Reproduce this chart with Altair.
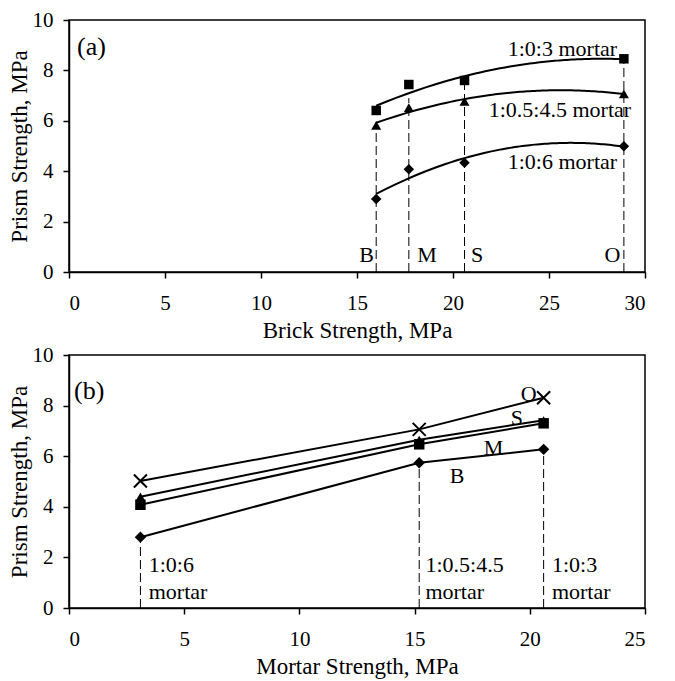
import altair as alt
import pandas as pd

# ---------------- data: panel (a) ----------------
brick_strength = [16.0, 17.7, 20.6, 28.9]
brick_names = ["B", "M", "S", "O"]
a_mortar_103 = [6.41, 7.44, 7.60, 8.46]     # 1:0:3 mortar (squares)
a_mortar_10545 = [5.82, 6.52, 6.77, 7.07]   # 1:0.5:4.5 mortar (triangles)
a_mortar_106 = [2.90, 4.08, 4.34, 4.99]     # 1:0:6 mortar (diamonds)
a_drop_top = [5.95, 6.90, 7.60, 8.46]

# ---------------- data: panel (b) ----------------
mortar_strength = [3.1, 15.2, 20.6]
mortar_names_1 = ["1:0:6", "1:0.5:4.5", "1:0:3"]
b_B = [2.80, 5.74, 6.27]   # diamonds
b_M = [4.08, 6.47, 7.30]   # squares
b_S = [4.40, 6.65, 7.42]   # triangles
b_O = [5.02, 7.06, 8.31]   # crosses

FONT = "Liberation Serif"
BLACK = "#000000"

# ---------- build tables ----------
a_series = ["1:0:3", "1:0.5:4.5", "1:0:6"]
a_vals = [a_mortar_103, a_mortar_10545, a_mortar_106]
rows_a = []
for s, vals in zip(a_series, a_vals):
    for xv, yv in zip(brick_strength, vals):
        rows_a.append({"series": s, "x": xv, "y": yv})
df_a = pd.DataFrame(rows_a)

df_a_drop = pd.DataFrame({"x": brick_strength, "y0": [0] * 4, "y1": a_drop_top})
df_a_letters = pd.DataFrame({"label": brick_names, "x": [15.5, 18.65, 21.25, 28.3], "y": [0.68] * 4})
df_a_series_labels = pd.DataFrame({
    "label": ["1:0:3 mortar", "1:0.5:4.5 mortar", "1:0:6 mortar"],
    "x": [22.85, 21.86, 22.85],
    "y": [8.85, 6.41, 4.37],
})

b_series = ["B", "M", "S", "O"]
b_vals = [b_B, b_M, b_S, b_O]
rows_b = []
for s, vals in zip(b_series, b_vals):
    for xv, yv in zip(mortar_strength, vals):
        rows_b.append({"mseries": s, "x": xv, "y": yv})
df_b = pd.DataFrame(rows_b)
df_b_drop = pd.DataFrame({"x": mortar_strength, "y0": [0] * 3, "y1": b_B})
df_b_letters = pd.DataFrame({"label": ["O", "S", "M", "B"],
                             "x": [19.95, 19.44, 18.43, 16.84],
                             "y": [8.44, 7.52, 6.34, 5.22]})
df_b_mortar_labels = pd.DataFrame({
    "label": mortar_names_1 + ["mortar"] * 3,
    "x": [3.46, 15.47, 20.96] * 2,
    "y": [1.68] * 3 + [0.63] * 3,
})

W, H = 576, 252

# ---------- panel (a) ----------
xa = alt.X("x:Q", scale=alt.Scale(domain=[0, 30], nice=False),
           axis=alt.Axis(values=[0, 5, 10, 15, 20, 25, 30], title="Brick Strength, MPa"))
ya = alt.Y("y:Q", scale=alt.Scale(domain=[0, 10], nice=False),
           axis=alt.Axis(values=[0, 2, 4, 6, 8, 10], title="Prism Strength, MPa"))

a_base = alt.Chart(df_a)
a_pts = a_base.mark_point(filled=True, opacity=1, color=BLACK).encode(
    x=xa, y=ya,
    shape=alt.Shape("series:N", scale=alt.Scale(domain=a_series, range=["square", "triangle-up", "diamond"]), legend=None),
    size=alt.Size("series:N", scale=alt.Scale(domain=a_series, range=[90, 110, 130]), legend=None),
)
a_fit = a_base.transform_regression(
    "x", "y", method="poly", order=2, groupby=["series"], extent=[16.0, 28.9]
).mark_line(color=BLACK, strokeWidth=2).encode(x="x:Q", y="y:Q", detail="series:N")
a_rules = alt.Chart(df_a_drop).mark_rule(color=BLACK, strokeWidth=1, strokeDash=[9, 4]).encode(
    x="x:Q", y="y0:Q", y2="y1:Q")
a_letters = alt.Chart(df_a_letters).mark_text(font=FONT, fontSize=22, align="center", baseline="middle", color=BLACK).encode(
    x="x:Q", y="y:Q", text="label:N")
a_labels = alt.Chart(df_a_series_labels).mark_text(font=FONT, fontSize=22, align="left", baseline="middle", color=BLACK).encode(
    x="x:Q", y="y:Q", text="label:N")
a_tag = alt.Chart(pd.DataFrame({"t": ["(a)"], "x": [0.42], "y": [8.93]})).mark_text(
    font=FONT, fontSize=26, align="left", baseline="middle", color=BLACK).encode(x="x:Q", y="y:Q", text="t:N")

panel_a = alt.layer(a_rules, a_fit, a_pts, a_letters, a_labels, a_tag).properties(width=W, height=H)

# ---------- panel (b) ----------
xb = alt.X("x:Q", scale=alt.Scale(domain=[0, 25], nice=False),
           axis=alt.Axis(values=[0, 5, 10, 15, 20, 25], title="Mortar Strength, MPa"))
yb = alt.Y("y:Q", scale=alt.Scale(domain=[0, 10], nice=False),
           axis=alt.Axis(values=[0, 2, 4, 6, 8, 10], title="Prism Strength, MPa"))

b_base = alt.Chart(df_b)
b_lines = b_base.mark_line(color=BLACK, strokeWidth=2).encode(x=xb, y=yb, detail="mseries:N")
b_rules = alt.Chart(df_b_drop).mark_rule(color=BLACK, strokeWidth=1, strokeDash=[9, 4]).encode(
    x="x:Q", y="y0:Q", y2="y1:Q")
b_filled = b_base.transform_filter(alt.datum.mseries != "O").mark_point(filled=True, opacity=1, color=BLACK).encode(
    x="x:Q", y="y:Q",
    shape=alt.Shape("mseries:N", scale=alt.Scale(domain=["B", "M", "S"], range=["diamond", "square", "triangle-up"]), legend=None),
    size=alt.Size("mseries:N", scale=alt.Scale(domain=["B", "M", "S"], range=[130, 90, 110]), legend=None),
)
b_cross = b_base.transform_filter(alt.datum.mseries == "O").mark_point(
    shape="M-1,-1L1,1M-1,1L1,-1", filled=False, size=170, strokeWidth=2, color=BLACK, opacity=1
).encode(x="x:Q", y="y:Q")
b_letters = alt.Chart(df_b_letters).mark_text(font=FONT, fontSize=22, align="center", baseline="middle", color=BLACK).encode(
    x="x:Q", y="y:Q", text="label:N")
b_mlabels = alt.Chart(df_b_mortar_labels).mark_text(font=FONT, fontSize=22, align="left", baseline="middle", color=BLACK).encode(
    x="x:Q", y="y:Q", text="label:N")
b_tag = alt.Chart(pd.DataFrame({"t": ["(b)"], "x": [0.22], "y": [8.58]})).mark_text(
    font=FONT, fontSize=26, align="left", baseline="middle", color=BLACK).encode(x="x:Q", y="y:Q", text="t:N")

panel_b = alt.layer(b_rules, b_lines, b_filled, b_cross, b_letters, b_mlabels, b_tag).properties(width=W, height=253)

chart = alt.vconcat(panel_a, panel_b, spacing=83, bounds="flush").resolve_scale(
    shape="independent", size="independent"
).properties(
    padding={"left": -1, "top": 0, "right": 5, "bottom": 0}
).configure_view(
    stroke=BLACK, strokeWidth=1.5
).configure_axis(
    grid=False, domainColor=BLACK, domainWidth=1.5, tickColor=BLACK, tickWidth=1.5, tickSize=6,
    labelFont=FONT, labelFontSize=21, labelColor=BLACK,
    titleFont=FONT, titleFontSize=23, titleFontWeight="normal", titleColor=BLACK,
).configure_axisX(
    labelPadding=14, titlePadding=6
).configure_axisY(
    labelPadding=10, titlePadding=1
)

chart.save("out.html", embed_options={"renderer": "svg", "actions": False})
